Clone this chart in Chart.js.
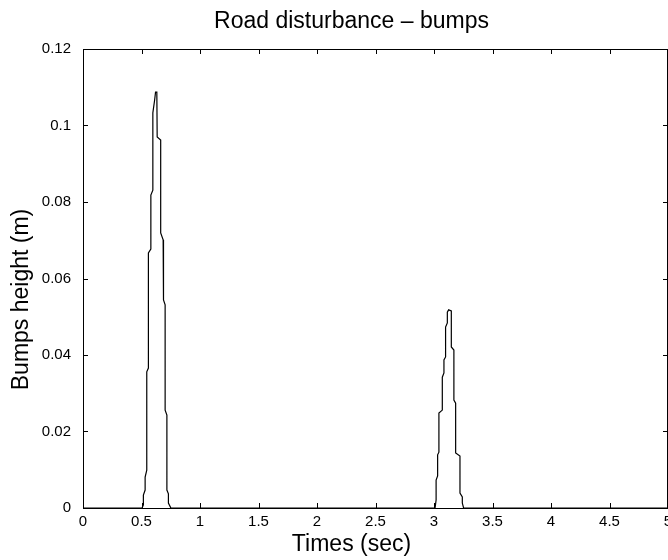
<!DOCTYPE html>
<html>
<head>
<meta charset="utf-8">
<script src="https://cdn.jsdelivr.net/npm/chart.js@4/dist/chart.umd.min.js"></script>
<style>
  body { margin: 0; background: #fff; }
</style>
</head>
<body>
<canvas id="grafico" width="668" height="560"></canvas>
<script>
// dados (contorno das duas lombadas)
const tempo = [0, 0.505, 0.516, 0.516, 0.531, 0.531, 0.545, 0.545, 0.559, 0.559, 0.580, 0.580, 0.597, 0.597, 0.612, 0.620,
  0.631, 0.634, 0.664, 0.664, 0.685, 0.688, 0.702, 0.702, 0.717, 0.717, 0.730, 0.730, 0.751,
  3.009, 3.018, 3.018, 3.031, 3.031, 3.042, 3.042, 3.071, 3.071, 3.085, 3.085, 3.099, 3.099, 3.114, 3.114, 3.125,
  3.148, 3.148, 3.170, 3.170, 3.185, 3.185, 3.222, 3.222, 3.242, 3.242, 3.253, 5];
const altura = [0, 0, 0.0008, 0.0034, 0.0047, 0.0081, 0.0099, 0.0356, 0.0366, 0.0667, 0.0677, 0.0818, 0.0831, 0.1033, 0.1066, 0.1087,
  0.1087, 0.0970, 0.0962, 0.0719, 0.0701, 0.0544, 0.0531, 0.0256, 0.0243, 0.0047, 0.0037, 0.0013, 0,
  0, 0.0021, 0.0073, 0.0084, 0.0139, 0.0146, 0.0248, 0.0256, 0.0342, 0.0353, 0.0387, 0.0395, 0.0473, 0.0484, 0.0512, 0.0518,
  0.0515, 0.0421, 0.0413, 0.0282, 0.0274, 0.0144, 0.0136, 0.0039, 0.0029, 0.0013, 0, 0];

const ticksX = [0, 0.5, 1, 1.5, 2, 2.5, 3, 3.5, 4, 4.5, 5];
const ticksY = [0, 0.02, 0.04, 0.06, 0.08, 0.1, 0.12];

const titulo = 'Road disturbance \u2013 bumps';
const rotuloX = 'Times (sec)';
const rotuloY = 'Bumps height (m)';

const fonte = "'Liberation Sans', Arial, sans-serif";

// caixa e marcas para dentro, estilo matlab
const caixa = {
  id: 'caixa',
  afterDatasetsDraw(chart) {
    const { ctx, chartArea: a, scales } = chart;
    ctx.save();
    ctx.strokeStyle = '#000';
    ctx.lineWidth = 1;
    ctx.strokeRect(Math.round(a.left) + 0.5, Math.round(a.top) + 0.5,
      Math.round(a.right - a.left) - 1, Math.round(a.bottom - a.top));
    ctx.beginPath();
    ticksX.forEach(v => {
      const px = Math.round(scales.x.getPixelForValue(v)) + 0.5;
      ctx.moveTo(px, a.bottom); ctx.lineTo(px, a.bottom - 5);
      ctx.moveTo(px, a.top); ctx.lineTo(px, a.top + 5);
    });
    ticksY.forEach(v => {
      const py = Math.round(scales.y.getPixelForValue(v)) + 0.5;
      ctx.moveTo(a.left, py); ctx.lineTo(a.left + 5, py);
      ctx.moveTo(a.right, py); ctx.lineTo(a.right - 5, py);
    });
    ctx.stroke();

    // titulo e rotulos dos eixos (no original ficam um pouco fora do centro)
    const cx = (a.left + a.right) / 2 - 24;
    const cy = (a.top + a.bottom) / 2 + 21;
    ctx.fillStyle = '#000';
    ctx.font = '23px ' + fonte;
    ctx.textAlign = 'center';
    ctx.textBaseline = 'middle';
    ctx.fillText(titulo, cx, 22);
    ctx.fillText(rotuloX, cx, a.bottom + 37);
    ctx.translate(22, cy);
    ctx.rotate(-Math.PI / 2);
    ctx.fillText(rotuloY, 0, 0);
    ctx.restore();
  }
};

new Chart(document.getElementById('grafico'), {
  type: 'line',
  data: {
    datasets: [{
      data: tempo.map((t, i) => ({ x: t, y: altura[i] })),
      borderColor: '#000',
      borderWidth: 1.2,
      pointRadius: 0,
      tension: 0,
      fill: false
    }]
  },
  options: {
    responsive: false,
    animation: false,
    layout: { padding: { left: 0, right: 0, top: 49, bottom: 0 } },
    plugins: {
      legend: { display: false },
      tooltip: { enabled: false },
      title: { display: false }
    },
    scales: {
      x: {
        type: 'linear',
        min: 0, max: 5,
        grid: { display: false, drawTicks: false },
        border: { display: false },
        afterBuildTicks: s => { s.ticks = ticksX.map(v => ({ value: v })); },
        afterFit: s => { s.paddingRight = 0; s.height = 52; },
        ticks: {
          color: '#000',
          padding: 5,
          maxRotation: 0,
          font: { family: fonte, size: 15 },
          callback: v => String(v)
        }
      },
      y: {
        type: 'linear',
        min: 0, max: 0.12,
        grid: { display: false, drawTicks: false },
        border: { display: false },
        afterBuildTicks: s => { s.ticks = ticksY.map(v => ({ value: v })); },
        afterFit: s => { s.width = 83; },
        ticks: {
          color: '#000',
          padding: 12,
          font: { family: fonte, size: 15 },
          callback: v => String(+v.toFixed(2))
        }
      }
    }
  },
  plugins: [caixa]
});
</script>
</body>
</html>
